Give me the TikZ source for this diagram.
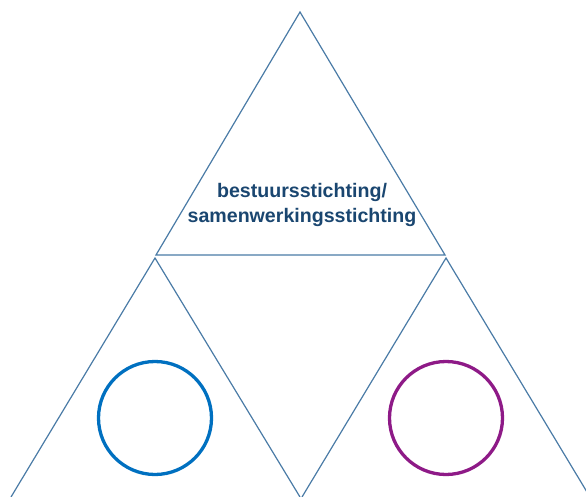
\documentclass[tikz,border=0pt]{standalone}
\usepackage{fontspec}
\setmainfont{Liberation Sans}
\definecolor{edge}{HTML}{4A7BA6}
\definecolor{txt}{HTML}{1A4670}
\definecolor{cblue}{HTML}{0070C0}
\definecolor{cpurple}{HTML}{8E1A87}
\begin{document}
\begin{tikzpicture}[x=1pt,y=-1pt,
  tri/.style={draw=edge,line width=1.2pt,line join=miter},
  ring/.style={circle,draw,line width=3.3pt,minimum size=113pt,inner sep=0pt}]
\useasboundingbox (0,0) rectangle (586,497);
\coordinate (t1) at (300,12);
\coordinate (t2) at (156,255);
\coordinate (t3) at (445,255);
\draw[tri] (t1) -- (t2) -- (t3) -- cycle;
\coordinate (l1) at (155,258);
\coordinate (l2) at (11,497);
\coordinate (l3) at (300,497);
\draw[tri] (l2) -- (l1) -- (l3);
\coordinate (r1) at (446,258);
\coordinate (r2) at (302,497);
\coordinate (r3) at (590,497);
\draw[tri] (r2) -- (r1) -- (r3);
\node[text=txt,font=\bfseries\fontsize{19.6}{25.5}\selectfont,align=center] (lbl) at (302,205) {bestuursstichting/\\samenwerkingsstichting};
\node[ring,draw=cblue] (cl) at (155,418) {};
\node[ring,draw=cpurple] (cr) at (446,418) {};
\end{tikzpicture}
\end{document}
